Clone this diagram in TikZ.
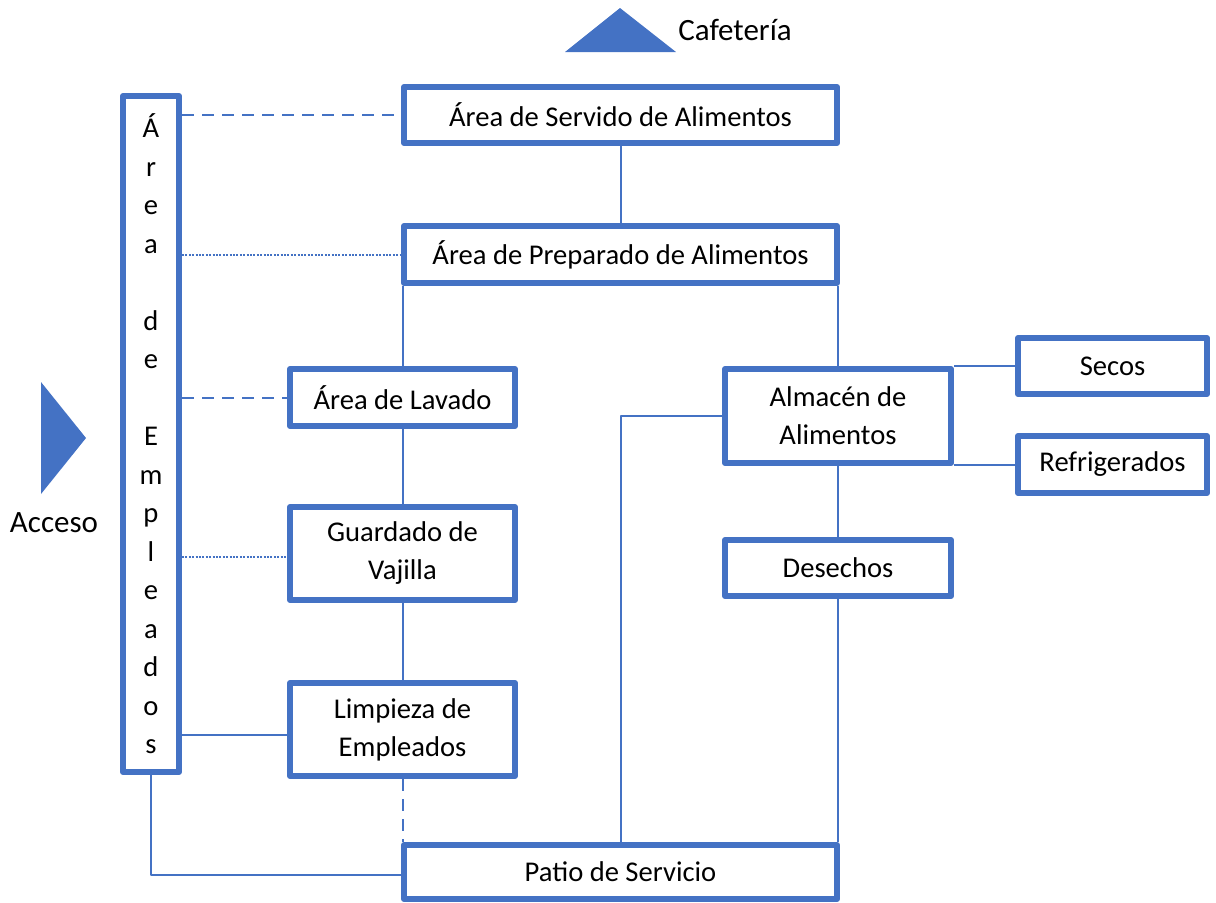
\documentclass[tikz,border=0pt]{standalone}
\usepackage{fontspec}
\setmainfont{Carlito}
\usepackage{xcolor}
\usepackage{tikz}
\usetikzlibrary{calc}
\definecolor{azul}{HTML}{4472C4}

\begin{document}
\begin{tikzpicture}[x=0.5pt,y=-0.5pt,line join=round,
  caja/.style={draw=azul,line width=3pt,fill=white,inner sep=0pt,align=center,font=\fontsize{14.3}{19}\selectfont},
  enlace/.style={draw=azul,line width=1pt},
  rayas/.style={enlace,dash pattern=on 6pt off 4pt},
  puntos/.style={enlace,dash pattern=on 1pt off 0.7pt}]
\useasboundingbox (0,0) rectangle (1216,902);
\fill[azul] (565,52)--(620,8)--(676,52)--cycle;
\fill[azul] (41,382)--(86,438)--(41,494)--cycle;
\node[font=\fontsize{15.5}{18}\selectfont] (cafe) at (735,30) {Cafetería};
\node[font=\fontsize{15.5}{18}\selectfont] (acceso) at (54,523) {Acceso};
\node[caja,minimum width=28pt,minimum height=338pt,font=\fontsize{14.3}{19.25}\selectfont] (empl) at (151,434)
  {Á\\r\\e\\a\\[19.25pt]d\\e\\[19.25pt]E\\m\\p\\l\\e\\a\\d\\o\\s};
\node[caja,minimum width=216.5pt,minimum height=28pt] (servido) at (620.5,115) {Área de Servido de Alimentos};
\node[caja,minimum width=216.5pt,minimum height=28.5pt] (preparado) at (620.5,254.5) {Área de Preparado de Alimentos};
\node[caja,minimum width=112.5pt,minimum height=28.5pt] (lavado) at (402.5,397.5) {Área de Lavado};
\node[caja,minimum width=112.5pt,minimum height=46.5pt] (guardado) at (402.5,553.5) {Guardado de\\Vajilla};
\node[caja,minimum width=112.5pt,minimum height=46.5pt] (limpieza) at (402.5,729.5) {Limpieza de\\Empleados};
\node[caja,minimum width=113pt,minimum height=47pt] (almacen) at (838,416) {Almacén de\\Alimentos};
\node[caja,minimum width=94.5pt,minimum height=28pt] (secos) at (1112.5,366) {Secos};
\node[caja,minimum width=94.5pt,minimum height=28.5pt] (refri) at (1112.5,464.5) {Refrigerados};
\node[caja,minimum width=113pt,minimum height=28pt] (desechos) at (838,568) {Desechos};
\node[caja,minimum width=216.5pt,minimum height=27pt] (patio) at (620.5,872) {Patio de Servicio};
\draw[enlace] (servido.south)--(preparado.north);
\draw[enlace] (lavado.north |- preparado.south)--(lavado.north);
\draw[enlace] (almacen.north |- preparado.south)--(almacen.north);
\draw[enlace] (lavado.south)--(guardado.north);
\draw[enlace] (guardado.south)--(limpieza.north);
\draw[rayas] (limpieza.south)--(limpieza.south |- patio.north);
\draw[enlace] (almacen.south)--(desechos.north);
\draw[enlace] (desechos.south)--(desechos.south |- patio.north);
\draw[enlace] (almacen.west) -| (patio.north);
\draw[enlace] (secos.west -| almacen.east)--(secos.west);
\draw[enlace] (refri.west -| almacen.east)--(refri.west);
\draw[rayas] (servido.west -| empl.east)--(servido.west);
\draw[puntos] (preparado.west -| empl.east)--(preparado.west);
\draw[rayas] (lavado.west -| empl.east)--(lavado.west);
\draw[puntos] ([yshift=-1.75pt]guardado.west -| empl.east)--([yshift=-1.75pt]guardado.west);
\draw[enlace] ([yshift=-2.75pt]limpieza.west -| empl.east)--([yshift=-2.75pt]limpieza.west);
\draw[enlace] (empl.south) |- ([yshift=-1.5pt]patio.west);
\end{tikzpicture}
\end{document}
